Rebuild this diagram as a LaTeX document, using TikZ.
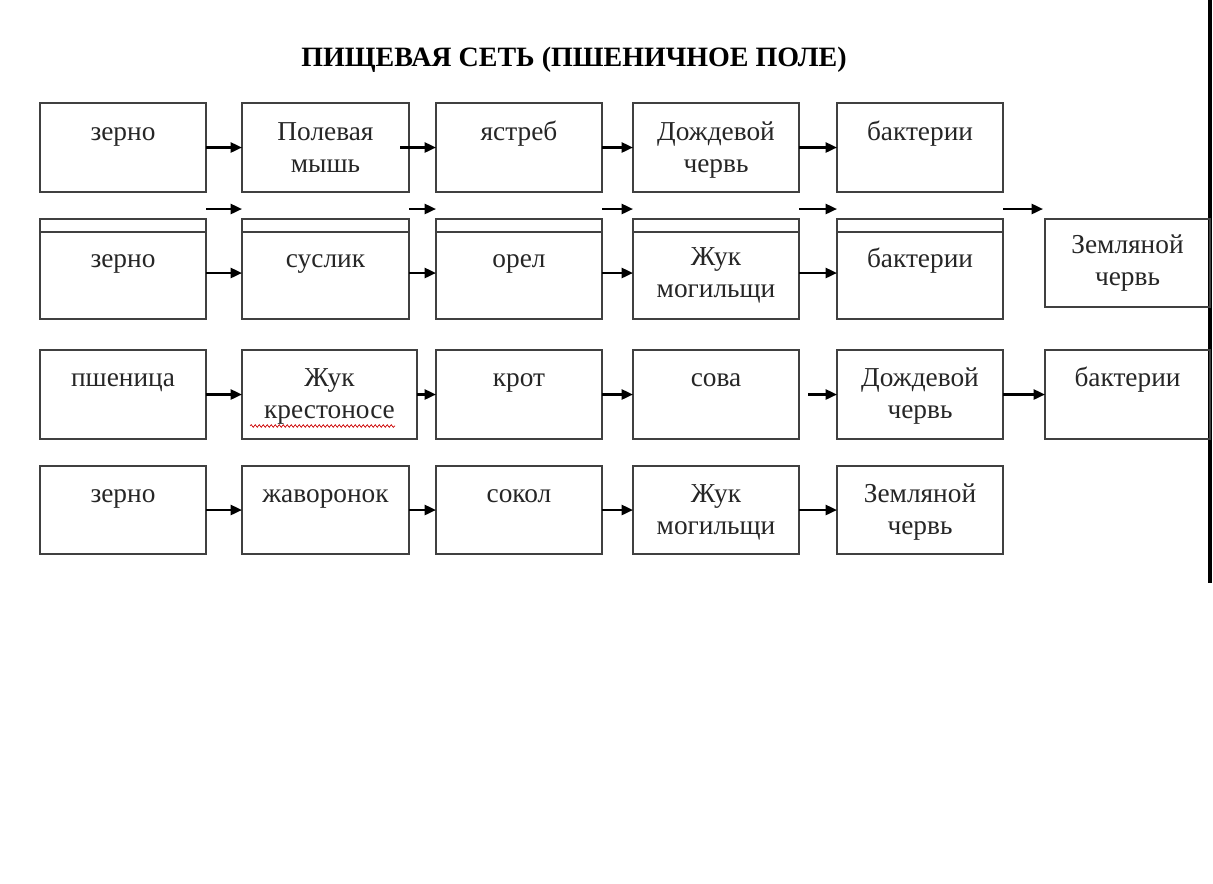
\documentclass[tikz,border=0pt]{standalone}
\usepackage{fontspec}
\setmainfont{Liberation Serif}
\usetikzlibrary{arrows.meta,calc,decorations.pathmorphing}
\newcommand{\bx}[5]{\node[box, minimum width={(#4-#2)*0.75pt}, minimum height={(#5-#3)*0.75pt}] (#1) at ({(#2+#4)/2},{(#3+#5)/2}) {};}
\begin{document}
\begin{tikzpicture}[x=0.75pt,y=-0.75pt,
 box/.style={draw=black!75, line width=1.7pt, inner sep=0pt, outer sep=0pt},
 lbl/.style={font=\fontsize{20.5}{24}\selectfont, text=black!85, align=center, anchor=base, inner sep=0pt},
 ttl/.style={font=\bfseries\fontsize{21}{24}\selectfont, anchor=base, inner sep=0pt},
 arr/.style={line width=1.8pt, -{Triangle[length=8.5pt,width=7.5pt]}},
 sep/.style={draw=black!75, line width=1.7pt},
]
\useasboundingbox (0,0) rectangle (1213,883);
\fill[white] (0,0) rectangle (1213,883);
% right page edge
\draw[line width=2.5pt] (1210,0) -- (1210,583);
% title
\node[ttl] (title) at (574,66) {ПИЩЕВАЯ СЕТЬ (ПШЕНИЧНОЕ ПОЛЕ)};
% row 1
\bx{a1}{40}{103}{206}{192}
\bx{a2}{242}{103}{409}{192}
\bx{a3}{436}{103}{602}{192}
\bx{a4}{633}{103}{799}{192}
\bx{a5}{837}{103}{1003}{192}
\node[lbl] at ($(a1.north)+(0,37)$) {зерно};
\node[lbl] at ($(a2.north)+(0,69)$) {Полевая\\мышь};
\node[lbl] at ($(a3.north)+(0,37)$) {ястреб};
\node[lbl] at ($(a4.north)+(0,69)$) {Дождевой\\червь};
\node[lbl] at ($(a5.north)+(0,37)$) {бактерии};
\draw[arr] (a1.east) -- (a2.west);
\draw[arr] ($(a2.east)+(-9,0)$) -- (a3.west);
\draw[arr] (a3.east) -- (a4.west);
\draw[arr] (a4.east) -- (a5.west);
% row 2
\bx{b1}{40}{219}{206}{319}
\bx{b2}{242}{219}{409}{319}
\bx{b3}{436}{219}{602}{319}
\bx{b4}{633}{219}{799}{319}
\bx{b5}{837}{219}{1003}{319}
\bx{b6}{1045}{219}{1210}{307}
\foreach \n in {b1,b2,b3,b4,b5}{
  \draw[sep] ($(\n.north west)+(0,13)$) -- ($(\n.north east)+(0,13)$);
}
\node[lbl] at ($(b1.north)+(0,48)$) {зерно};
\node[lbl] at ($(b2.north)+(0,48)$) {суслик};
\node[lbl] at ($(b3.north)+(0,48)$) {орел};
\node[lbl] at ($(b4.north)+(0,78)$) {Жук\\могильщи};
\node[lbl] at ($(b5.north)+(0,48)$) {бактерии};
\node[lbl] at ($(b6.north)+(0,66)$) {Земляной\\червь};
\draw[arr] ($(b1.east)+(0,4)$) -- ($(b2.west)+(0,4)$);
\draw[arr] ($(b2.east)+(0,4)$) -- ($(b3.west)+(0,4)$);
\draw[arr] ($(b3.east)+(0,4)$) -- ($(b4.west)+(0,4)$);
\draw[arr] ($(b4.east)+(0,4)$) -- ($(b5.west)+(0,4)$);
% free arrows between rows 1 and 2
\coordinate (f6) at ($(b6.north west)+(-2,-10)$);
\draw[arr] ($(b1.north east)+(0,-10)$) -- ($(b2.north west)+(0,-10)$);
\draw[arr] ($(b2.north east)+(0,-10)$) -- ($(b3.north west)+(0,-10)$);
\draw[arr] ($(b3.north east)+(0,-10)$) -- ($(b4.north west)+(0,-10)$);
\draw[arr] ($(b4.north east)+(0,-10)$) -- ($(b5.north west)+(0,-10)$);
\draw[arr] ($(b5.north east)+(0,-10)$) -- (f6);
% row 3
\bx{c1}{40}{350}{206}{439}
\bx{c2}{242}{350}{417}{439}
\bx{c3}{436}{350}{602}{439}
\bx{c4}{633}{350}{799}{439}
\bx{c5}{837}{350}{1003}{439}
\bx{c6}{1045}{350}{1210}{439}
\node[lbl] at ($(c1.north)+(0,36)$) {пшеница};
\node[lbl] (c2t) at ($(c2.north)+(0,68)$) {Жук\\крестоносе};
\node[lbl] at ($(c3.north)+(0,36)$) {крот};
\node[lbl] at ($(c4.north)+(0,36)$) {сова};
\node[lbl] at ($(c5.north)+(0,68)$) {Дождевой\\червь};
\node[lbl] at ($(c6.north)+(0,36)$) {бактерии};
\draw[red!80!black, line width=0.5pt, decorate, decoration={snake, amplitude=1pt, segment length=3pt}] (250,426) -- (395,426);
\draw[arr] (c1.east) -- (c2.west);
\draw[arr] (c2.east) -- (c3.west);
\draw[arr] (c3.east) -- (c4.west);
\draw[arr] ($(c4.east)+(9,0)$) -- (c5.west);
\draw[arr] (c5.east) -- (c6.west);
% row 4
\bx{d1}{40}{466}{206}{554}
\bx{d2}{242}{466}{409}{554}
\bx{d3}{436}{466}{602}{554}
\bx{d4}{633}{466}{799}{554}
\bx{d5}{837}{466}{1003}{554}
\node[lbl] at ($(d1.north)+(0,36)$) {зерно};
\node[lbl] at ($(d2.north)+(0,36)$) {жаворонок};
\node[lbl] at ($(d3.north)+(0,36)$) {сокол};
\node[lbl] at ($(d4.north)+(0,68)$) {Жук\\могильщи};
\node[lbl] at ($(d5.north)+(0,68)$) {Земляной\\червь};
\draw[arr] (d1.east) -- (d2.west);
\draw[arr] (d2.east) -- (d3.west);
\draw[arr] (d3.east) -- (d4.west);
\draw[arr] (d4.east) -- (d5.west);
\end{tikzpicture}
\end{document}
